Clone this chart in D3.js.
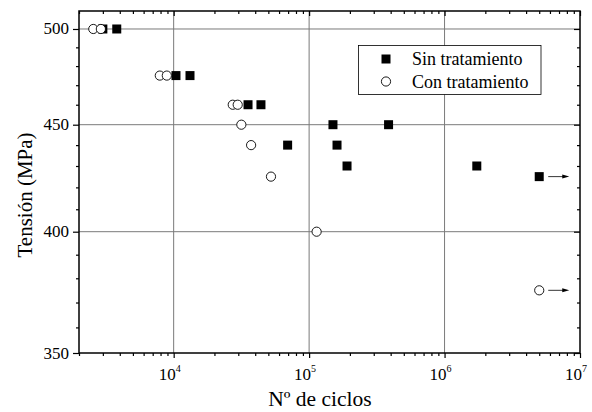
<!DOCTYPE html>
<html>
<head>
<meta charset="utf-8">
<script src="https://cdn.jsdelivr.net/npm/d3@7"></script>
<style>
  body { margin: 0; background: #fff; }
  text { font-family: "Liberation Serif", "Times New Roman", serif; fill: #000; }
</style>
</head>
<body>
<script>
"use strict";
// data
const sinCiclos = [3000, 3800, 10400, 13200, 35400, 44100, 150000, 386000, 69400, 160700, 190500, 1730000, 5000000]
const sinTension = [500, 500, 475, 475, 460, 460, 450, 450, 440, 440, 430, 430, 425]
const conCiclos = [2550, 2900, 7900, 8900, 27300, 29700, 31600, 37300, 52300, 113600, 5000000]
const conTension = [500, 500, 475, 475, 460, 460, 450, 440, 425, 400, 375]
// run-outs (no failure) marked with an arrow
const runoutCiclos = [5000000, 5000000]
const runoutTension = [425, 375]
const legendLabels = ["Sin tratamiento", "Con tratamiento"]
const xMajor = [1e4, 1e5, 1e6, 1e7]
const xExp = ["4", "5", "6", "7"]
const yMajor = [350, 400, 450, 500]
const yGrid = [400, 450, 500]

const m = { width: 592, height: 412, left: 79, right: 580, top: 11, bottom: 353 }

const svg = d3.select("body").append("svg")
    .attr("width", m.width)
    .attr("height", m.height)

const x = d3.scaleLog().domain([2000, 1e7]).range([m.left, m.right])
const y = d3.scaleLog().domain([350, 510]).range([m.bottom, m.top])

// minor ticks
let xMinor = []
for (let e = 3; e < 7; e++) {
    for (let k = 2; k <= 9; k++) {
        const v = k * Math.pow(10, e)
        if (v >= 2000 && v < 1e7) xMinor.push(v)
    }
}
let yMinor = d3.range(360, 510, 10).filter(v => v % 50 != 0)

// grid
svg.append("g").selectAll("line").data(yGrid).enter().append("line")
    .attr("x1", m.left).attr("x2", m.right)
    .attr("y1", d => y(d)).attr("y2", d => y(d))
    .attr("stroke", "#7a7a7a").attr("stroke-width", 1)
svg.append("g").selectAll("line").data(xMajor.slice(0, 3)).enter().append("line")
    .attr("y1", m.top).attr("y2", m.bottom)
    .attr("x1", d => x(d)).attr("x2", d => x(d))
    .attr("stroke", "#7a7a7a").attr("stroke-width", 1)

function addAxis(axis, tx, ty) {
    const g = svg.append("g")
        .attr("transform", "translate(" + tx + "," + ty + ")")
        .call(axis)
    g.select(".domain").remove()
    g.selectAll("line").attr("stroke", "#000").attr("stroke-width", 1.2)
    return g
}

// bottom (outward), top (inward)
addAxis(d3.axisBottom(x).tickValues(xMajor).tickSize(5).tickFormat(""), 0, m.bottom)
addAxis(d3.axisBottom(x).tickValues(xMinor).tickSize(3).tickFormat(""), 0, m.bottom)
addAxis(d3.axisTop(x).tickValues(xMajor).tickSize(-5).tickFormat(""), 0, m.top)
addAxis(d3.axisTop(x).tickValues(xMinor).tickSize(-3).tickFormat(""), 0, m.top)
// left (outward), right (inward)
addAxis(d3.axisLeft(y).tickValues(yMajor).tickSize(6).tickFormat(""), m.left, 0)
addAxis(d3.axisLeft(y).tickValues(yMinor).tickSize(3).tickFormat(""), m.left, 0)
addAxis(d3.axisRight(y).tickValues(yMajor).tickSize(-6).tickFormat(""), m.right, 0)
addAxis(d3.axisRight(y).tickValues(yMinor).tickSize(-3).tickFormat(""), m.right, 0)

// frame
svg.append("rect")
    .attr("x", m.left).attr("y", m.top)
    .attr("width", m.right - m.left).attr("height", m.bottom - m.top)
    .attr("fill", "none").attr("stroke", "#000").attr("stroke-width", 1.5)

// tick labels
svg.append("g").selectAll("text").data(yMajor).enter().append("text")
    .attr("x", m.left - 10)
    .attr("y", d => y(d) + 5.5)
    .attr("text-anchor", "end")
    .attr("font-size", 17)
    .text(d => d)

const xl = svg.append("g").selectAll("text").data(xMajor).enter().append("text")
    .attr("x", d => x(d) - 4)
    .attr("y", 380)
    .attr("text-anchor", "middle")
    .attr("font-size", 17)
xl.append("tspan").text("10")
xl.append("tspan").attr("dy", -8).attr("font-size", 10).text((d, i) => xExp[i])

// axis titles
svg.append("text")
    .attr("x", 320)
    .attr("y", 406)
    .attr("text-anchor", "middle")
    .attr("font-size", 21.5)
    .text("Nº de ciclos")
svg.append("text")
    .attr("transform", "translate(32,195) rotate(-90)")
    .attr("text-anchor", "middle")
    .attr("font-size", 21)
    .text("Tensión (MPa)")

// points
const sq = 9
svg.append("g").selectAll("rect").data(sinCiclos).enter().append("rect")
    .attr("x", d => x(d) - sq / 2)
    .attr("y", (d, i) => y(sinTension[i]) - sq / 2)
    .attr("width", sq).attr("height", sq)
    .attr("fill", "#000")
svg.append("g").selectAll("circle").data(conCiclos).enter().append("circle")
    .attr("cx", d => x(d))
    .attr("cy", (d, i) => y(conTension[i]))
    .attr("r", 4.6)
    .attr("fill", "#fff").attr("stroke", "#000").attr("stroke-width", 0.9)

// run-out arrows
const arrows = svg.append("g").selectAll("g").data(runoutCiclos).enter().append("g")
arrows.append("line")
    .attr("x1", d => x(d) + 9).attr("x2", d => x(d) + 24)
    .attr("y1", (d, i) => y(runoutTension[i])).attr("y2", (d, i) => y(runoutTension[i]))
    .attr("stroke", "#000").attr("stroke-width", 0.8)
arrows.append("path")
    .attr("d", (d, i) => {
        const ax = x(d) + 30, ay = y(runoutTension[i])
        return "M" + ax + "," + ay + "L" + (ax - 7) + "," + (ay - 2) + "L" + (ax - 7) + "," + (ay + 2) + "Z"
    })
    .attr("fill", "#000")

// legend
const legend = svg.append("g")
legend.append("rect")
    .attr("x", 358.5).attr("y", 45.5)
    .attr("width", 182.5).attr("height", 49)
    .attr("fill", "#fff").attr("stroke", "#000").attr("stroke-width", 0.8)
legendLabels.forEach((lab, i) => {
    const ly = 59 + i * 22.5
    if (i == 0) {
        legend.append("rect")
            .attr("x", 386 - sq / 2).attr("y", ly - sq / 2)
            .attr("width", sq).attr("height", sq).attr("fill", "#000")
    } else {
        legend.append("circle")
            .attr("cx", 386).attr("cy", ly).attr("r", 4.6)
            .attr("fill", "#fff").attr("stroke", "#000").attr("stroke-width", 0.9)
    }
    legend.append("text")
        .attr("x", 412).attr("y", ly + 6)
        .attr("font-size", 18)
        .text(lab)
})
</script>
</body>
</html>
